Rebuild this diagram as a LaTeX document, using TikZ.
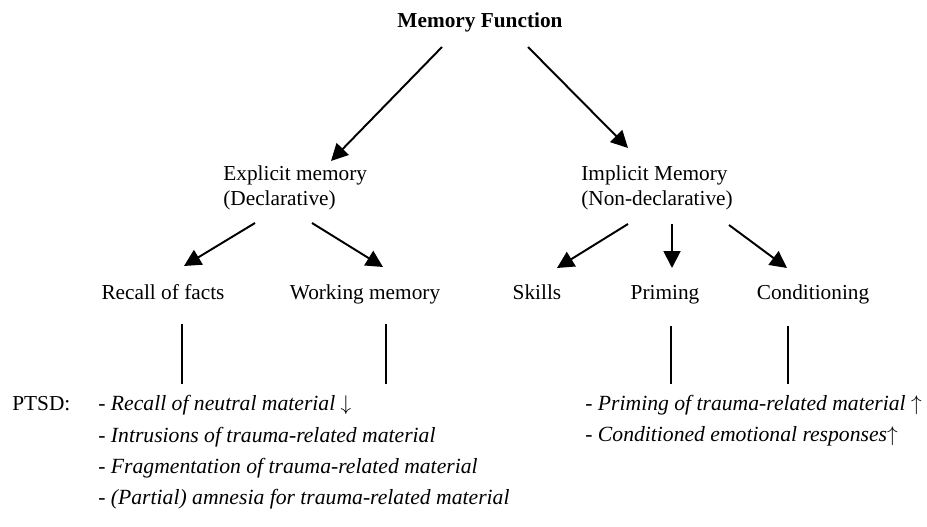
\documentclass[tikz,border=0pt]{standalone}
\usepackage{fontspec}
\setmainfont{Liberation Serif}
\usetikzlibrary{arrows.meta}

\begin{document}
\begin{tikzpicture}[x=0.5634pt, y=-0.5634pt,
    every node/.style={font=\fontsize{12}{14.1}\selectfont},
    head/.style={font=\fontsize{12}{14.1}\selectfont\bfseries},
    kind/.style={align=left, anchor=west, inner sep=0pt},
    item/.style={font=\fontsize{12.2}{15}\selectfont\itshape, anchor=base west, inner sep=0pt},
    arr/.style={-{Triangle[length=9.5pt,width=9.5pt]}, line width=1.1pt},
    link/.style={line width=0.8pt}]
          \useasboundingbox (0,0) rectangle (927,527);

          \node[head, anchor=base] (MemFunc) at (480,28) {Memory Function};

          \node[kind] (Explicit) at (223,188) {Explicit memory\\(Declarative)};
          \node[kind] (Implicit) at (581,188) {Implicit Memory\\(Non-declarative)};

          \node[anchor=base] (Recall) at (163,300) {Recall of facts};
          \node[anchor=base] (Working) at (365,300) {Working memory};
          \node[anchor=base] (Skills) at (537,300) {Skills};
          \node[anchor=base] (Priming) at (665,300) {Priming};
          \node[anchor=base] (Conditioning) at (813,300) {Conditioning};

          \node[anchor=base west, inner sep=0pt] (Ptsd) at (12,411) {PTSD:};
          \node[item] (RecallNeutral) at (98,411) {- Recall of neutral material $\downarrow$};
          \node[item] (Intrusions) at (98,442) {- Intrusions of trauma-related material};
          \node[item] (Fragmentation) at (98,473) {- Fragmentation of trauma-related material};
          \node[item] (Amnesia) at (98,504) {- (Partial) amnesia for trauma-related material};
          \node[item] (PrimingTrauma) at (585,410) {- Priming of trauma-related material $\uparrow$};
          \node[item] (Responses) at (585,441) {- Conditioned emotional responses$\uparrow$};

          % arrow ends
          \coordinate (MemFuncL) at (442,47);
          \coordinate (MemFuncR) at (528,47);
          \coordinate (ExplicitTop) at (331,161);
          \coordinate (ImplicitTop) at (628,148);
          \coordinate (ExplicitL) at (255,223);
          \coordinate (ExplicitR) at (312,223);
          \coordinate (ImplicitL) at (628,224);
          \coordinate (ImplicitM) at (672,224);
          \coordinate (ImplicitR) at (729,225);
          \coordinate (RecallTop) at (184,266);
          \coordinate (WorkingTop) at (383,267);
          \coordinate (SkillsTop) at (557,268);
          \coordinate (PrimingTop) at (672,268);
          \coordinate (ConditioningTop) at (787,268);

          \draw[arr] (MemFuncL) -- (ExplicitTop);
          \draw[arr] (MemFuncR) -- (ImplicitTop);
          \draw[arr] (ExplicitL) -- (RecallTop);
          \draw[arr] (ExplicitR) -- (WorkingTop);
          \draw[arr] (ImplicitL) -- (SkillsTop);
          \draw[arr] (ImplicitM) -- (PrimingTop);
          \draw[arr] (ImplicitR) -- (ConditioningTop);

          % lines down to PTSD
          \coordinate (RecallLow) at (182,324);
          \coordinate (WorkingLow) at (386,324);
          \coordinate (PrimingLow) at (671,326);
          \coordinate (ConditioningLow) at (788,326);
          \draw[link] (RecallLow) -- (182,384);
          \draw[link] (WorkingLow) -- (386,384);
          \draw[link] (PrimingLow) -- (671,384);
          \draw[link] (ConditioningLow) -- (788,384);

        \end{tikzpicture}
\end{document}
